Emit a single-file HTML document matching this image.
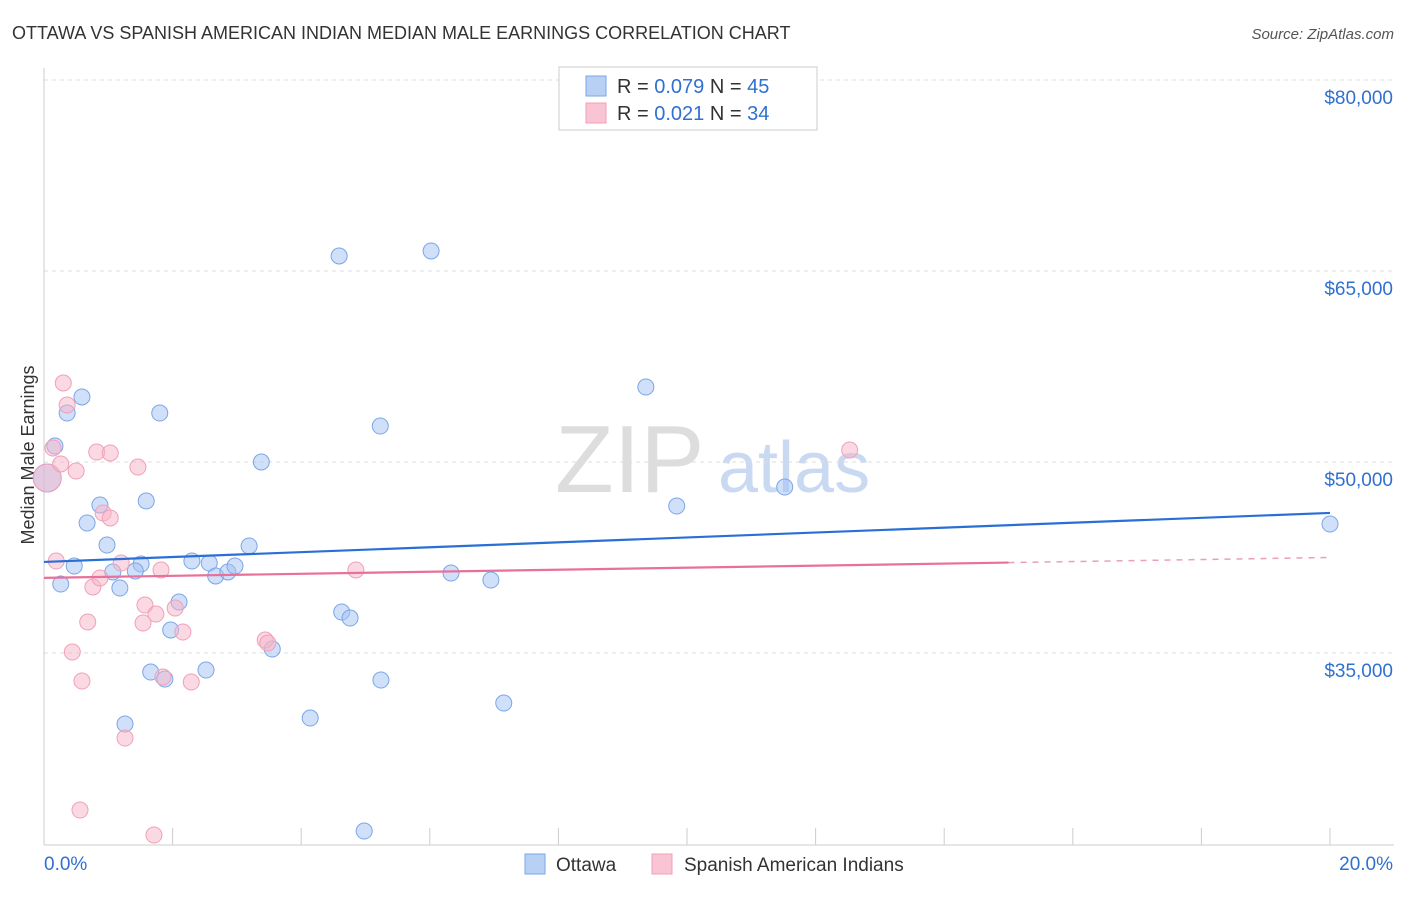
<!DOCTYPE html>
<html><head><meta charset="utf-8"><style>
body{margin:0;background:#fff;font-family:"Liberation Sans",sans-serif;}
svg text{font-family:"Liberation Sans",sans-serif;}
</style></head><body>
<svg id="chart" width="1406" height="892">
<text x="12" y="39" font-size="18" fill="#333">OTTAWA VS SPANISH AMERICAN INDIAN MEDIAN MALE EARNINGS CORRELATION CHART</text>
<text x="1394" y="39" font-size="15" fill="#555" text-anchor="end" font-style="italic">Source: ZipAtlas.com</text>
<text x="34" y="455" font-size="18" fill="#333" text-anchor="middle" transform="rotate(-90 34 455)">Median Male Earnings</text>
<text x="555" y="492" font-size="96" fill="#ddd" font-family="Liberation Serif">ZIP</text>
<text x="718" y="492" font-size="72" fill="#c9d9f2">atlas</text>
<g id="grid"></g><g id="axes"></g><g id="pts"></g><g id="trend"></g>
<g>
<rect x="559" y="67" width="258" height="63" fill="#fff" stroke="#ccc"/>
<rect x="586" y="76" width="20" height="20" fill="#b9d0f5" stroke="#7aa6e8"/>
<rect x="586" y="103" width="20" height="20" fill="#f9c4d3" stroke="#f0a0b8"/>
<text x="617" y="93" font-size="20" fill="#333">R = <tspan fill="#3070d0">0.079</tspan>   N = <tspan fill="#3070d0">45</tspan></text>
<text x="617" y="120" font-size="20" fill="#333">R =  <tspan fill="#3070d0">0.021</tspan>   N = <tspan fill="#3070d0">34</tspan></text>
</g>
<g>
<rect x="525" y="854" width="20" height="20" fill="#b9d0f5" stroke="#7aa6e8"/>
<text x="556" y="871" font-size="19" fill="#333">Ottawa</text>
<rect x="652" y="854" width="20" height="20" fill="#f9c4d3" stroke="#f0a0b8"/>
<text x="684" y="871" font-size="19" fill="#333">Spanish American Indians</text>
</g>
<text x="44" y="870" font-size="19" fill="#3070d0">0.0%</text>
<text x="1393" y="870" font-size="19" fill="#3070d0" text-anchor="end">20.0%</text>
</svg>
<script>
const yTicks=[35000,50000,65000,80000];
const yTickLabels=["$35,000","$50,000","$65,000","$80,000"];
const xTicks=[0,2,4,6,8,10,12,14,16,18,20];
const ottawaX=[0.05,0.17,0.36,0.59,0.47,0.26,0.67,0.87,0.98,1.07,1.18,1.26,1.51,1.59,1.42,1.80,1.66,1.88,1.97,2.10,2.30,2.52,2.57,2.67,2.86,2.97,3.19,3.38,3.55,4.14,4.59,4.63,4.76,4.98,5.23,5.24,6.02,6.33,6.95,7.15,9.36,9.84,11.52,20.0];
const ottawaY=[48742,51255,53847,55104,41831,40417,45208,46622,43480,41360,40103,29422,41988,46936,41438,53847,33506,32956,36805,39004,42223,33663,42066,41046,41360,41831,43402,49999,35312,29893,66178,38218,37747,21018,52826,32878,66571,41281,40731,31071,55889,46543,48035,45129];
const spanX=[0.05,0.14,0.30,0.36,0.19,0.26,0.50,0.44,0.59,0.68,0.76,0.82,0.92,1.03,1.03,0.87,1.20,1.26,1.46,1.57,1.54,1.74,1.82,2.04,2.16,1.85,2.29,0.56,1.71,3.44,3.48,4.85,12.53];
const spanY=[48742,51098,56204,54476,42223,49842,49292,35076,32799,37433,40182,50784,45993,45601,50706,40889,42066,28322,49606,38768,37354,38061,41517,38532,36647,33113,32720,22667,20703,36019,35783,41517,50941];
const ottawaTrend=[42150,46000];
const spanTrend=[40900,42500];
const spanSolidEnd=15;
const NS="http://www.w3.org/2000/svg";
const xs=v=>44+v*64.3;
const ys=v=>271-(v-65000)*0.012733;
function mk(tag,parent,attrs){const e=document.createElementNS(NS,tag);for(const k in attrs)e.setAttribute(k,attrs[k]);document.getElementById(parent).appendChild(e);return e;}
yTicks.forEach((t,i)=>{
 const l=mk('line','grid',{x1:44,x2:1394,y1:ys(t),y2:ys(t),stroke:'#ddd','stroke-dasharray':'4,4'});
 
 
 const tx=mk('text','grid',{x:1393,y:ys(t)+24,'font-size':19,fill:'#3070d0','text-anchor':'end'});
 tx.textContent=yTickLabels[i];
 
 
});
const ax=mk('line','axes',{x1:44,x2:44,y1:68,y2:845,stroke:'#ccc'});


const bx=mk('line','axes',{x1:44,x2:1394,y1:845,y2:845,stroke:'#ccc'});


xTicks.forEach(t=>{
 const l=mk('line','axes',{x1:xs(t),x2:xs(t),y1:828,y2:845,stroke:'#ccc'});
 
 
});
function pts(X,Y,fill,stroke,name){
 X.forEach((x,i)=>{
  const r=(i===0)?14:8;
  const c=mk('circle','pts',{cx:xs(x),cy:ys(Y[i]),r:r,fill:fill,stroke:stroke,'stroke-width':1});
  
  
 });
}
pts(ottawaX,ottawaY,'rgba(164,194,244,0.5)','#7aa6e8','ottawa-point');
pts(spanX,spanY,'rgba(248,180,200,0.5)','#f0a0b8','spanish-american-indian-point');
const bt=mk('line','trend',{x1:xs(0),y1:ys(ottawaTrend[0]),x2:xs(20),y2:ys(ottawaTrend[1]),stroke:'#2a6fd6','stroke-width':2.2});


const pm=spanTrend[0]+(spanTrend[1]-spanTrend[0])*spanSolidEnd/20;
const pt=mk('line','trend',{x1:xs(0),y1:ys(spanTrend[0]),x2:xs(spanSolidEnd),y2:ys(pm),stroke:'#e8709a','stroke-width':2.2});


const pd=mk('line','trend',{x1:xs(spanSolidEnd),y1:ys(pm),x2:xs(20),y2:ys(spanTrend[1]),stroke:'#e8a0b8','stroke-width':1.5,'stroke-dasharray':'6,6'});


</script>
</body></html>
